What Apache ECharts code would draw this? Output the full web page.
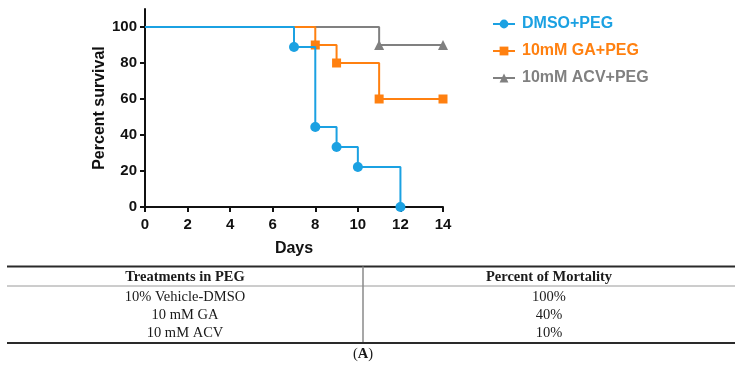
<!DOCTYPE html>
<html>
<head>
<meta charset="utf-8">
<script src="https://cdn.jsdelivr.net/npm/echarts@6/dist/echarts.min.js"></script>
<style>
  html, body { margin: 0; padding: 0; background: #fff; }
  #chart { width: 743px; height: 367px; }
</style>
</head>
<body>
<div id="chart"></div>
<script>
// survival data (Kaplan-Meier steps)
const dmsoDays = [0, 7, 8, 9, 10, 12];
const dmsoSurvival = [100, 88.9, 44.4, 33.3, 22.2, 0];
const gaDays = [0, 8, 9, 11, 14];
const gaSurvival = [100, 90, 80, 60, 60];
const acvDays = [0, 11, 14];
const acvSurvival = [100, 90, 90];

const seriesNames = ['DMSO+PEG', '10mM GA+PEG', '10mM ACV+PEG'];
const xTicks = [0, 2, 4, 6, 8, 10, 12, 14];
const yTicks = [0, 20, 40, 60, 80, 100];

const tableHeaders = ['Treatments in PEG', 'Percent of Mortality'];
const tableTreatments = ['10% Vehicle-DMSO', '10 mM GA', '10 mM ACV'];
const tableMortality = ['100%', '40%', '10%'];

const colors = ['#1BA1E2', '#FF8010', '#808080'];
const symbols = ['circle', 'rect', 'triangle'];

function toPoints(days, vals, symbol, size) {
    return days.map((d, i) => ({
        value: [d, vals[i]],
        symbol: i === 0 ? 'none' : symbol,
        symbolSize: size
    }));
}

const chart = echarts.init(document.getElementById('chart'));

const axisFont = { fontFamily: 'Liberation Sans', fontWeight: 'bold', fontSize: 15, color: '#111' };

function stepSeries(idx, days, vals, size, z) {
    return {
        name: seriesNames[idx],
        type: 'line',
        step: 'end',
        data: toPoints(days, vals, symbols[idx], size),
        symbol: symbols[idx],
        symbolSize: size,
        showAllSymbol: true,
        z: z,
        color: colors[idx],
        lineStyle: { width: 2, color: colors[idx] },
        itemStyle: { color: colors[idx] },
        animation: false
    };
}

// table drawn with graphic elements
const tLeft = 7, tRight = 735, tMid = 363;
const tTop = 266.5, tHeaderLine = 286, tBottom = 343;
const rowY = [297, 315, 333];
const serif = 'Liberation Serif';
const tableGraphics = [
    { type: 'line', shape: { x1: tLeft, y1: tTop, x2: tRight, y2: tTop }, style: { stroke: '#2a2a2a', lineWidth: 2 } },
    { type: 'line', shape: { x1: tLeft, y1: tHeaderLine, x2: tRight, y2: tHeaderLine }, style: { stroke: '#9a9a9a', lineWidth: 1 } },
    { type: 'line', shape: { x1: tMid, y1: tTop, x2: tMid, y2: tBottom }, style: { stroke: '#8a8a8a', lineWidth: 1.5 } },
    { type: 'line', shape: { x1: tLeft, y1: tBottom, x2: tRight, y2: tBottom }, style: { stroke: '#2a2a2a', lineWidth: 2 } },
    { type: 'text', x: (tLeft + tMid) / 2, y: 277, style: { text: tableHeaders[0], fill: '#1a1a1a', font: 'bold 14.5px ' + serif, align: 'center', verticalAlign: 'middle' } },
    { type: 'text', x: (tMid + tRight) / 2, y: 277, style: { text: tableHeaders[1], fill: '#1a1a1a', font: 'bold 14.5px ' + serif, align: 'center', verticalAlign: 'middle' } },
    {
        type: 'text', x: tMid, y: 354,
        style: {
            text: '{n|(}{b|A}{n|)}', align: 'center', verticalAlign: 'middle',
            rich: {
                n: { font: '14.5px ' + serif, fill: '#1a1a1a' },
                b: { font: 'bold 14.5px ' + serif, fill: '#1a1a1a' }
            }
        }
    }
];
tableTreatments.forEach((t, i) => {
    tableGraphics.push({ type: 'text', x: (tLeft + tMid) / 2, y: rowY[i], style: { text: t, fill: '#1a1a1a', font: '14.5px ' + serif, align: 'center', verticalAlign: 'middle' } });
    tableGraphics.push({ type: 'text', x: (tMid + tRight) / 2, y: rowY[i], style: { text: tableMortality[i], fill: '#1a1a1a', font: '14.5px ' + serif, align: 'center', verticalAlign: 'middle' } });
});

chart.setOption({
    animation: false,
    grid: { left: 145, right: 300, top: 9, bottom: 160, containLabel: false },
    legend: {
        orient: 'vertical',
        left: 487,
        top: 11,
        itemWidth: 22,
        itemHeight: 11,
        itemGap: 11,
        data: seriesNames.map((n, i) => ({
            name: n,
            textStyle: { color: colors[i], fontFamily: 'Liberation Sans', fontWeight: 'bold', fontSize: 16, padding: [0, 0, 0, 2] }
        }))
    },
    xAxis: {
        type: 'value',
        min: 0,
        max: 14,
        interval: 2,
        name: 'Days',
        nameLocation: 'middle',
        nameGap: 34,
        nameTextStyle: { fontFamily: 'Liberation Sans', fontWeight: 'bold', fontSize: 16, color: '#111' },
        splitLine: { show: false },
        axisLine: { lineStyle: { color: '#111', width: 2 } },
        axisTick: { length: 5, lineStyle: { color: '#111', width: 2 } },
        axisLabel: Object.assign({ margin: 10, formatter: v => xTicks.includes(v) ? String(v) : '' }, axisFont)
    },
    yAxis: {
        type: 'value',
        min: 0,
        max: 110,
        name: 'Percent survival',
        nameLocation: 'middle',
        nameRotate: 90,
        nameGap: 35,
        nameTextStyle: { fontFamily: 'Liberation Sans', fontWeight: 'bold', fontSize: 16, color: '#111' },
        splitLine: { show: false },
        axisLine: { show: true, lineStyle: { color: '#111', width: 2 } },
        axisTick: { show: true, length: 5, customValues: yTicks, lineStyle: { color: '#111', width: 2 } },
        axisLabel: Object.assign({ margin: 8, customValues: yTicks }, axisFont)
    },
    series: [
        stepSeries(2, acvDays, acvSurvival, 10, 2),
        stepSeries(1, gaDays, gaSurvival, 9, 3),
        stepSeries(0, dmsoDays, dmsoSurvival, 10, 4)
    ],
    graphic: tableGraphics
});
</script>
</body>
</html>
